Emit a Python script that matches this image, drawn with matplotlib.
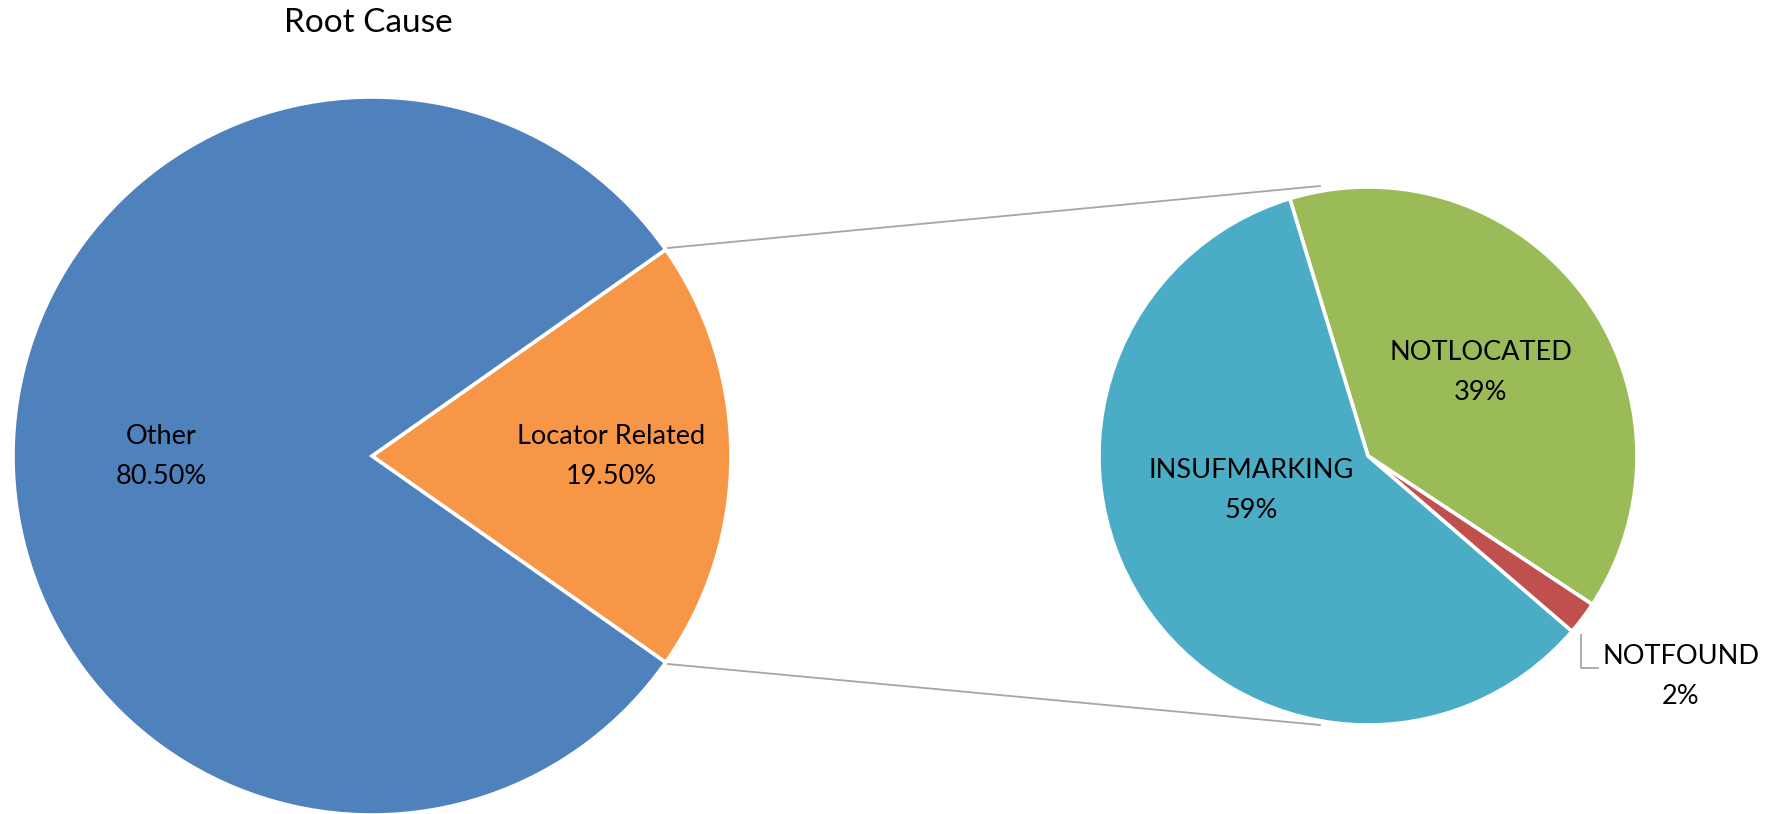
import matplotlib.pyplot as plt

plt.rcParams['font.family'] = ['Lato', 'DejaVu Sans']

# Data
main_labels = ["Other", "Locator Related"]
main_values = [80.5, 19.5]
main_colors = ["#4F81BD", "#F79646"]

sub_labels = ["NOTLOCATED", "NOTFOUND", "INSUFMARKING"]
sub_values = [39, 2, 59]
sub_colors = ["#9BBB59", "#C0504D", "#4BACC6"]

W, H = 1769, 814
fig = plt.figure(figsize=(W / 100, H / 100), dpi=100)
ax = fig.add_axes([0, 0, 1, 1])

wedge = dict(edgecolor="white", linewidth=2.6)

# main pie, "Locator Related" centred on the right
main_c, main_r = (372, 358), 359
start = main_values[1] / 100 * 360 / 2
ax.pie(main_values[::-1], colors=main_colors[::-1], center=main_c, radius=main_r,
       startangle=-start, wedgeprops=wedge, frame=True)

# secondary pie
sub_c, sub_r = (1368, 358), 269
ax.pie(sub_values, colors=sub_colors, center=sub_c, radius=sub_r,
       startangle=106.9, counterclock=False, wedgeprops=wedge, frame=True)
ax.set_xlim(0, W)
ax.set_ylim(0, H)
ax.axis("off")

# connector lines
ax.plot([668, 1320], [566, 628], color="#A6A6A6", lw=1.3)
ax.plot([668, 1320], [150, 89], color="#A6A6A6", lw=1.3)

fs = 19.5
ls = 1.75
ax.text(161, 358, f"{main_labels[0]}\n{main_values[0]:.2f}%", ha="center", va="center",
        fontsize=fs, linespacing=ls)
ax.text(611, 358, f"{main_labels[1]}\n{main_values[1]:.2f}%", ha="center", va="center",
        fontsize=fs, linespacing=ls)
ax.text(1481, 442, f"{sub_labels[0]}\n{sub_values[0]}%", ha="center", va="center",
        fontsize=fs, linespacing=ls)
ax.text(1251, 324, f"{sub_labels[2]}\n{sub_values[2]}%", ha="center", va="center",
        fontsize=fs, linespacing=ls)
ax.text(1681, 137, f"{sub_labels[1]}\n{sub_values[1]}%", ha="center", va="center",
        fontsize=fs, linespacing=ls)
ax.plot([1581, 1581, 1598], [179, 146, 146], color="#A6A6A6", lw=1.3)

fig.text(368 / W, 1 - 23 / H, "Root Cause", ha="center", va="center", fontsize=24)

fig.savefig("out.png", dpi=100)
